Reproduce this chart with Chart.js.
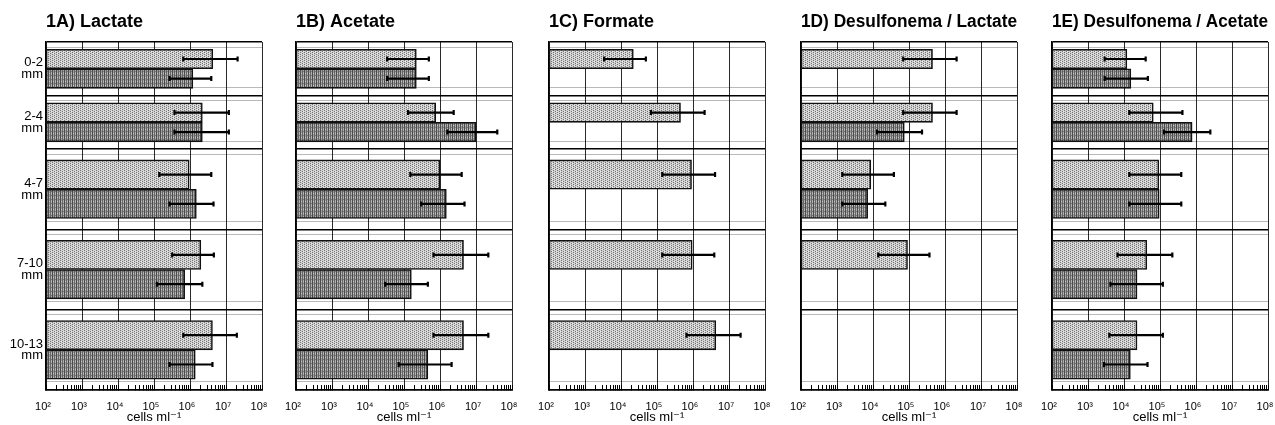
<!DOCTYPE html>
<html>
<head>
<meta charset="utf-8">
<script src="https://cdn.jsdelivr.net/npm/chart.js@4/dist/chart.umd.min.js"></script>
<style>
  body { margin: 0; background: #fff; width: 1275px; height: 425px; overflow: hidden; position: relative; }
  canvas { position: absolute; top: 0; }
</style>
</head>
<body>
<script>
// depth intervals (mm) = the rows of every panel
const DEPTH_TOP = [0, 2, 4, 7, 10];
const DEPTH_BOTTOM = [2, 4, 7, 10, 13];
const DEPTH_LABELS = ['0-2', '2-4', '4-7', '7-10', '10-13'];

const X_EXPONENTS = [2, 3, 4, 5, 6, 7, 8];
const X_TITLE = 'cells ml\u207B\u00B9';

const TITLES = ['1A) Lactate', '1B) Acetate', '1C) Formate', '1D) Desulfonema / Lactate', '1E) Desulfonema / Acetate'];

// 1A Lactate
const A_LIGHT    = [4.3e6, 2.2e6, 9.5e5, 2.0e6, 4.2e6];
const A_LIGHT_LO = [6.5e5, 3.7e5, 1.4e5, 3.2e5, 6.5e5];
const A_LIGHT_HI = [2.1e7, 1.2e7, 3.9e6, 4.6e6, 2.0e7];
const A_DARK     = [1.2e6, 2.2e6, 1.5e6, 7.1e5, 1.4e6];
const A_DARK_LO  = [2.7e5, 3.7e5, 2.7e5, 1.2e5, 2.7e5];
const A_DARK_HI  = [3.9e6, 1.2e7, 4.5e6, 2.2e6, 4.2e6];

// 1B Acetate
const B_LIGHT    = [2.2e5, 7.6e5, 1.0e6, 4.5e6, 4.5e6];
const B_LIGHT_LO = [3.4e4, 1.3e5, 1.5e5, 6.6e5, 6.6e5];
const B_LIGHT_HI = [4.9e5, 2.4e6, 4.0e6, 2.2e7, 2.2e7];
const B_DARK     = [2.2e5, 1.0e7, 1.5e6, 1.6e5, 4.6e5];
const B_DARK_LO  = [3.4e4, 1.6e6, 3.0e5, 3.0e4, 7.1e4];
const B_DARK_HI  = [4.9e5, 3.9e7, 4.8e6, 4.6e5, 2.1e6];

// 1C Formate
const C_LIGHT    = [2.2e4, 4.5e5, 9.1e5, 9.5e5, 4.3e6];
const C_LIGHT_LO = [3.4e3, 6.8e4, 1.4e5, 1.4e5, 6.6e5];
const C_LIGHT_HI = [4.9e4, 2.1e6, 4.1e6, 3.9e6, 2.1e7];
const C_DARK     = [null, null, null, null, null];
const C_DARK_LO  = [null, null, null, null, null];
const C_DARK_HI  = [null, null, null, null, null];

// 1D Desulfonema / Lactate
const D_LIGHT    = [4.5e5, 4.5e5, 8.7e3, 9.1e4, null];
const D_LIGHT_LO = [6.9e4, 6.9e4, 1.4e3, 1.4e4, null];
const D_LIGHT_HI = [2.1e6, 2.1e6, 3.8e4, 3.7e5, null];
const D_DARK     = [null, 7.4e4, 7.1e3, null, null];
const D_DARK_LO  = [null, 1.3e4, 1.4e3, null, null];
const D_DARK_HI  = [null, 2.3e5, 2.2e4, null, null];

// 1E Desulfonema / Acetate
const E_LIGHT    = [1.2e4, 6.5e4, 9.3e4, 4.3e4, 2.3e4];
const E_LIGHT_LO = [2.9e3, 1.4e4, 1.4e4, 6.6e3, 3.9e3];
const E_LIGHT_HI = [4.0e4, 4.2e5, 3.9e5, 2.2e5, 1.2e5];
const E_DARK     = [1.55e4, 7.8e5, 9.5e4, 2.3e4, 1.5e4];
const E_DARK_LO  = [2.9e3, 1.3e5, 1.4e4, 4.2e3, 2.8e3];
const E_DARK_HI  = [4.6e4, 2.5e6, 3.9e5, 1.2e5, 4.5e4];

const PANELS = [
  [A_LIGHT, A_LIGHT_LO, A_LIGHT_HI, A_DARK, A_DARK_LO, A_DARK_HI],
  [B_LIGHT, B_LIGHT_LO, B_LIGHT_HI, B_DARK, B_DARK_LO, B_DARK_HI],
  [C_LIGHT, C_LIGHT_LO, C_LIGHT_HI, C_DARK, C_DARK_LO, C_DARK_HI],
  [D_LIGHT, D_LIGHT_LO, D_LIGHT_HI, D_DARK, D_DARK_LO, D_DARK_HI],
  [E_LIGHT, E_LIGHT_LO, E_LIGHT_HI, E_DARK, E_DARK_LO, E_DARK_HI]
];

// layout
const PLOT_LEFT = [46, 296, 549, 801, 1052];
const PLOT_W = 216;
const FONT = "'Liberation Sans', Arial, 'DejaVu Sans', sans-serif";
Chart.defaults.font.family = FONT;
Chart.defaults.color = '#000';

const SUP = { 2: '\u00B2', 3: '\u00B3', 4: '\u2074', 5: '\u2075', 6: '\u2076', 7: '\u2077', 8: '\u2078' };

function makePattern(w, draw) {
  const c = document.createElement('canvas');
  c.width = w; c.height = w;
  const g = c.getContext('2d');
  draw(g);
  return g.createPattern(c, 'repeat');
}
const LIGHT_FILL = makePattern(4, g => {
  g.fillStyle = '#d2d2d2'; g.fillRect(0, 0, 4, 4);
  g.fillStyle = '#747474';
  [[0, 0], [2, 1], [0, 2], [2, 3]].forEach(p => g.fillRect(p[0], p[1], 1, 1));
  g.fillStyle = '#ebebeb';
  [[1, 1], [3, 3]].forEach(p => g.fillRect(p[0], p[1], 1, 1));
});
const DARK_FILL = makePattern(4, g => {
  ['#4c4c4c', '#989898', '#666666', '#b2b2b2'].forEach((c, i) => { g.fillStyle = c; g.fillRect(i, 0, 1, 4); });
  g.fillStyle = '#c8c8c8'; g.fillRect(1, 1, 1, 1);
  g.fillStyle = '#7a7a7a'; g.fillRect(3, 3, 1, 1);
});

// x ticks: decades + minor 2..9
const X_TICKS = [];
X_EXPONENTS.forEach((e, i) => {
  const top = i === X_EXPONENTS.length - 1 ? 1 : 9;
  for (let k = 1; k <= top; k++) X_TICKS.push(k * Math.pow(10, e));
});
function isDecade(v) { const e = Math.log10(v); return Math.abs(e - Math.round(e)) < 1e-9; }

// y ticks: row boundaries, row centres (labels), faint inner lines
const BOUNDS = [DEPTH_TOP[0]].concat(DEPTH_BOTTOM);
const MIDS = DEPTH_TOP.map((t, i) => (t + DEPTH_BOTTOM[i]) / 2);
const INNER = [];
DEPTH_TOP.forEach((t, i) => { INNER.push(t + 0.19, DEPTH_BOTTOM[i] - 0.3); });
const Y_TICKS = BOUNDS.concat(MIDS, INNER).sort((a, b) => a - b);

// bar points: row boundaries are kept as empty points so the flex width fills each row
function rowPoints(values) {
  const pts = [{ x: null, y: DEPTH_TOP[0] }];
  values.forEach((v, i) => {
    pts.push({ x: v, y: MIDS[i] });
    pts.push({ x: null, y: DEPTH_BOTTOM[i] });
  });
  return pts;
}
function rowErr(values) {
  const out = [null];
  values.forEach(v => { out.push(v, null); });
  return out;
}

const errorBars = {
  id: 'errorBars',
  afterDatasetsDraw(chart) {
    const ctx = chart.ctx;
    const xs = chart.scales.x;
    ctx.save();
    ctx.strokeStyle = '#000';
    ctx.lineWidth = 2.2;
    chart.data.datasets.forEach((ds, i) => {
      chart.getDatasetMeta(i).data.forEach((bar, j) => {
        const lo = ds.errLo[j], hi = ds.errHi[j];
        if (lo == null || hi == null) return;
        const x1 = xs.getPixelForValue(lo), x2 = xs.getPixelForValue(hi), y = bar.y;
        ctx.beginPath();
        ctx.moveTo(x1, y); ctx.lineTo(x2, y);
        ctx.moveTo(x1, y - 2.5); ctx.lineTo(x1, y + 2.5);
        ctx.moveTo(x2, y - 2.5); ctx.lineTo(x2, y + 2.5);
        ctx.stroke();
      });
    });
    ctx.restore();
  }
};

PANELS.forEach((p, idx) => {
  const first = idx === 0;
  const yW = first ? 46 : 24;
  const cv = document.createElement('canvas');
  cv.width = yW + PLOT_W + 10;
  cv.height = 425;
  cv.style.left = (PLOT_LEFT[idx] - yW) + 'px';
  document.body.appendChild(cv);

  const barOpts = {
    barThickness: 'flex', categoryPercentage: 1.46, barPercentage: 1,
    borderColor: '#111', borderWidth: 1.6, borderSkipped: false
  };

  new Chart(cv.getContext('2d'), {
    type: 'bar',
    data: {
      datasets: [
        Object.assign({ label: 'light', data: rowPoints(p[0]), errLo: rowErr(p[1]), errHi: rowErr(p[2]), backgroundColor: LIGHT_FILL }, barOpts),
        Object.assign({ label: 'dark', data: rowPoints(p[3]), errLo: rowErr(p[4]), errHi: rowErr(p[5]), backgroundColor: DARK_FILL }, barOpts)
      ]
    },
    options: {
      indexAxis: 'y',
      responsive: false,
      animation: false,
      events: [],
      layout: { padding: { left: 0, right: 10, top: 0, bottom: 0 } },
      plugins: {
        legend: { display: false },
        tooltip: { enabled: false },
        title: {
          display: true, text: TITLES[idx], align: 'start', fullSize: false, color: '#000',
          font: { size: 18, weight: 'bold', lineHeight: 1.2 },
          padding: { top: 11, bottom: 9.4 }
        }
      },
      scales: {
        x: {
          type: 'logarithmic', min: 1e2, max: 1e8,
          afterBuildTicks: s => { s.ticks = X_TICKS.map(v => ({ value: v })); },
          afterFit: s => { s.height = 35; s.paddingLeft = 0; s.paddingRight = 0; },
          grid: {
            color: c => (c.tick && isDecade(c.tick.value)) ? '#2a2a2a' : 'rgba(0,0,0,0)',
            lineWidth: 1, tickLength: -5, tickColor: '#000', tickWidth: 1
          },
          border: { display: true, color: '#000', width: 1.5 },
          ticks: {
            autoSkip: false, maxRotation: 0, padding: 15, labelOffset: -3, color: '#000',
            font: { size: 11 },
            callback: v => isDecade(v) ? '10' + SUP[Math.round(Math.log10(v))] : ''
          },
          title: { display: true, text: X_TITLE, color: '#000', font: { size: 13 }, padding: 0 }
        },
        y: {
          type: 'linear', min: DEPTH_TOP[0], max: DEPTH_BOTTOM[DEPTH_BOTTOM.length - 1], reverse: true, offset: false,
          afterBuildTicks: s => { s.ticks = Y_TICKS.map(v => ({ value: v })); },
          afterFit: s => { s.width = yW; s.paddingTop = 0; s.paddingBottom = 0; },
          grid: {
            offset: false, drawTicks: false,
            color: c => {
              if (!c.tick) return '#000';
              const v = c.tick.value;
              if (BOUNDS.includes(v)) return '#000';
              if (MIDS.includes(v)) return 'rgba(0,0,0,0)';
              return 'rgba(0,0,0,0.35)';
            },
            lineWidth: c => (c.tick && BOUNDS.includes(c.tick.value)) ? 1.5 : 0.8
          },
          border: { display: true, color: '#000', width: 1.5 },
          ticks: {
            display: first, autoSkip: false, padding: 3, color: '#000',
            font: { size: 13, lineHeight: 0.9 },
            callback: v => {
              const i = MIDS.indexOf(v);
              return i >= 0 ? [DEPTH_LABELS[i], 'mm'] : '';
            }
          }
        }
      }
    },
    plugins: [errorBars]
  });
});
</script>
</body>
</html>
